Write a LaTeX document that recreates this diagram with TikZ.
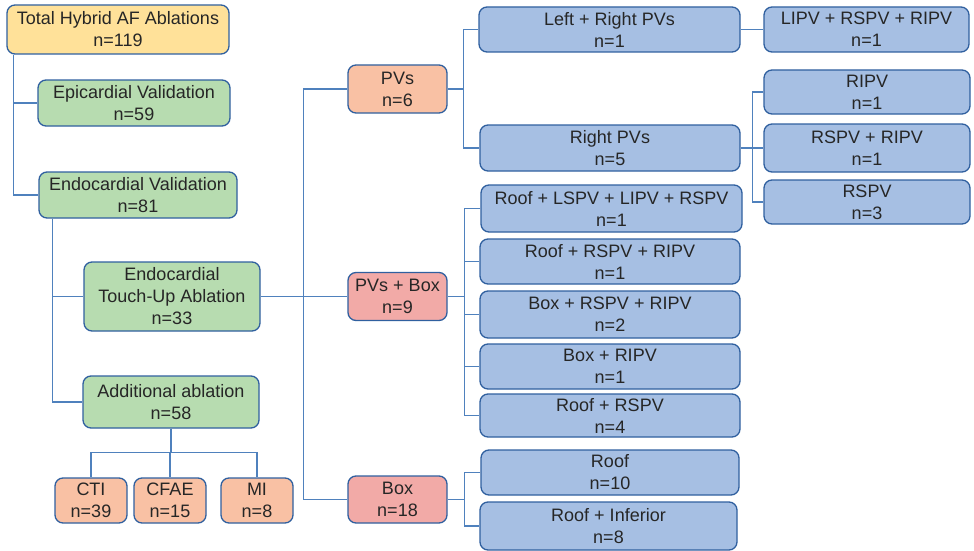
\documentclass[tikz,border=0pt]{standalone}
\usepackage{fontspec}
\setmainfont{Liberation Sans}
\definecolor{fillyellow}{HTML}{FFE199}
\definecolor{fillgreen}{HTML}{B7DCB0}
\definecolor{fillsalmon}{HTML}{F9C1A4}
\definecolor{fillpink}{HTML}{F2AAA7}
\definecolor{fillblue}{HTML}{A6BFE3}
\definecolor{edgeblue}{HTML}{30609F}
\definecolor{linkblue}{HTML}{4F81BD}
\definecolor{txt}{HTML}{262626}
\tikzset{
  card/.style={draw=edgeblue, line width=1.3pt, rounded corners=8pt, align=center,
    text=txt, inner sep=0pt, font=\fontsize{18}{22}\selectfont},
  link/.style={draw=linkblue, line width=1.2pt},
}
\begin{document}
\begin{tikzpicture}[x=1pt, y=-1pt]
\useasboundingbox (0,0) rectangle (974,551);

% left-hand tree
\node[card, fill=fillyellow, minimum width=222pt, minimum height=49pt] (total) at (118,29.5) {Total Hybrid AF Ablations\\n=119};
\node[card, fill=fillgreen, minimum width=192pt, minimum height=46pt] (epi) at (134,103) {Epicardial Validation\\n=59};
\node[card, fill=fillgreen, minimum width=198pt, minimum height=46pt] (endo) at (138,195) {Endocardial Validation\\n=81};
\node[card, fill=fillgreen, minimum width=176pt, minimum height=69pt] (touch) at (172,296.5) {Endocardial\\Touch-Up Ablation\\n=33};
\node[card, fill=fillgreen, minimum width=176pt, minimum height=52pt] (addl) at (171,402) {Additional ablation\\n=58};
\node[card, fill=fillsalmon, minimum width=72pt, minimum height=45pt] (cti) at (91,500.5) {CTI\\n=39};
\node[card, fill=fillsalmon, minimum width=72pt, minimum height=45pt] (cfae) at (170,500.5) {CFAE\\n=15};
\node[card, fill=fillsalmon, minimum width=72pt, minimum height=45pt] (mi) at (257,500.5) {MI\\n=8};

% lesion sets
\node[card, fill=fillsalmon, minimum width=99pt, minimum height=48pt] (pvs) at (397.5,89) {PVs\\n=6};
\node[card, fill=fillpink, minimum width=99pt, minimum height=48pt] (pvbox) at (397.5,296.5) {PVs + Box\\n=9};
\node[card, fill=fillpink, minimum width=99pt, minimum height=47pt] (box) at (397.5,499.5) {Box\\n=18};

% detailed lesion sets
\node[card, fill=fillblue, minimum width=261pt, minimum height=45pt] (lr) at (609.5,29.5) {Left + Right PVs\\n=1};
\node[card, fill=fillblue, minimum width=260pt, minimum height=46pt] (rpv) at (610,148) {Right PVs\\n=5};
\node[card, fill=fillblue, minimum width=261pt, minimum height=47pt] (ra) at (611.5,208.5) {Roof + LSPV + LIPV + RSPV\\n=1};
\node[card, fill=fillblue, minimum width=260pt, minimum height=45pt] (rb) at (610,261.5) {Roof + RSPV + RIPV\\n=1};
\node[card, fill=fillblue, minimum width=260pt, minimum height=47pt] (rc) at (610,314.5) {Box + RSPV + RIPV\\n=2};
\node[card, fill=fillblue, minimum width=260pt, minimum height=45pt] (rd) at (610,366.5) {Box + RIPV\\n=1};
\node[card, fill=fillblue, minimum width=260pt, minimum height=43pt] (re) at (610,415.5) {Roof + RSPV\\n=4};
\node[card, fill=fillblue, minimum width=258pt, minimum height=45pt] (roof) at (610,472.5) {Roof\\n=10};
\node[card, fill=fillblue, minimum width=257pt, minimum height=48pt] (roofinf) at (608.5,526) {Roof + Inferior\\n=8};

% pulmonary vein combinations
\node[card, fill=fillblue, minimum width=205pt, minimum height=45pt] (lipv) at (866.5,29.5) {LIPV + RSPV + RIPV\\n=1};
\node[card, fill=fillblue, minimum width=206pt, minimum height=44pt] (ripv) at (867,92) {RIPV\\n=1};
\node[card, fill=fillblue, minimum width=206pt, minimum height=48pt] (rsrip) at (867,148) {RSPV + RIPV\\n=1};
\node[card, fill=fillblue, minimum width=206pt, minimum height=44pt] (rspv) at (867,202) {RSPV\\n=3};

% connectors
\draw[link] ([xshift=7pt]total.south west) |- (epi.west);
\draw[link] ([xshift=7pt]total.south west) |- (endo.west);
\draw[link] ([xshift=14pt]endo.south west) |- (touch.west);
\draw[link] ([xshift=14pt]endo.south west) |- (addl.west);
\draw[link] (addl.south) -- ++(0,24) -| (cti.north);
\draw[link] (addl.south) -- ++(0,24) -| (mi.north);
\draw[link] (addl.south) -- ++(0,24) -| (cfae.north);

\draw[link] (touch.east) -- (pvbox.west);
\draw[link] (pvs.west) -- ++(-44,0) |- (box.west);

\draw[link] (pvs.east) -- ++(16,0);
\draw[link] (lr.west) -| ([xshift=16pt]pvs.east) |- (rpv.west);
\draw[link] (lr.east) -- (lipv.west);

\draw[link] (rpv.east) -- (rsrip.west);
\draw[link] (ripv.west) -| ([xshift=12pt]rpv.east) |- (rspv.west);

\draw[link] (pvbox.east) -- ++(17,0);
\draw[link] (ra.west) -| ([xshift=17pt]pvbox.east) |- (re.west);
\draw[link] ([xshift=17pt]pvbox.east) |- (rb.west);
\draw[link] ([xshift=17pt]pvbox.east) |- (rc.west);
\draw[link] ([xshift=17pt]pvbox.east) |- (rd.west);

\draw[link] (box.east) -- ++(17,0);
\draw[link] (roof.west) -| ([xshift=17pt]box.east) |- (roofinf.west);
\end{tikzpicture}
\end{document}
